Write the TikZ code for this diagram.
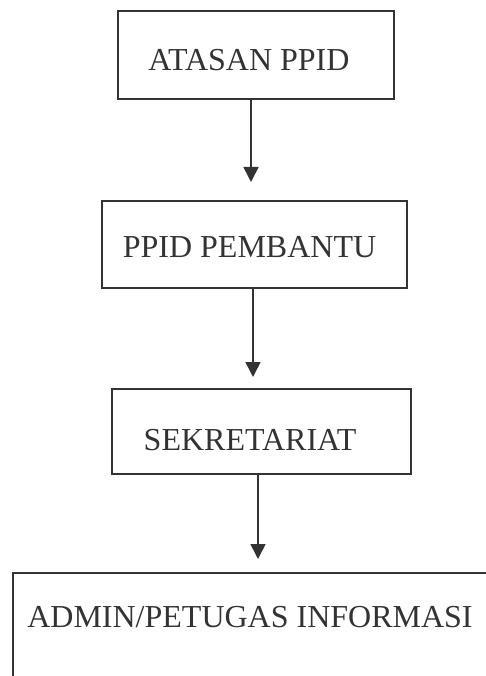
\documentclass[tikz,border=0pt]{standalone}
\usepackage{fontspec}
\setmainfont{Liberation Serif}
\usetikzlibrary{arrows.meta}

\begin{document}
\begin{tikzpicture}[x=1pt,y=-1pt]
\tikzset{ >={Triangle[length=15pt,width=15pt]}, inner sep=0pt, outer sep=0pt,
  box/.style={draw=black!80, line width=1.6pt, rectangle},
  lbl/.style={anchor=base, text=black!80, font=\fontsize{32}{38}\selectfont},
  flow/.style={->, draw=black!80, fill=black!80, line width=1.6pt},
}

\useasboundingbox (0,0) rectangle (486,676);
\clip (0,0) rectangle (486,676);

% boxes
\node [box, minimum width=276pt, minimum height=88pt]  (atasan)   at (256,55)    {};
\node [box, minimum width=305pt, minimum height=87pt]  (pembantu) at (254.5,244.5) {};
\node [box, minimum width=299pt, minimum height=85pt]  (sekret)   at (261.5,431.5) {};
\node [box, minimum width=487pt, minimum height=147pt] (admin)    at (256.5,646.5) {};

% texts
\node [lbl] (atasan-txt)   at (249,71)    {ATASAN PPID};
\node [lbl] (pembantu-txt) at (249.5,257) {PPID PEMBANTU};
\node [lbl] (sekret-txt)   at (250,450)   {SEKRETARIAT};
\node [lbl] (admin-txt)    at (250,627)   {ADMIN/PETUGAS INFORMASI};

% arrows
\draw [flow, shorten >=19pt] ([xshift=-5pt]atasan.south)     -- ([xshift=-5pt]atasan.south |- pembantu.north);
\draw [flow, shorten >=12pt] ([xshift=-1.5pt]pembantu.south) -- ([xshift=-1.5pt]pembantu.south |- sekret.north);
\draw [flow, shorten >=14pt] ([xshift=-3.5pt]sekret.south)   -- ([xshift=-3.5pt]sekret.south |- admin.north);

\end{tikzpicture}
\end{document}
